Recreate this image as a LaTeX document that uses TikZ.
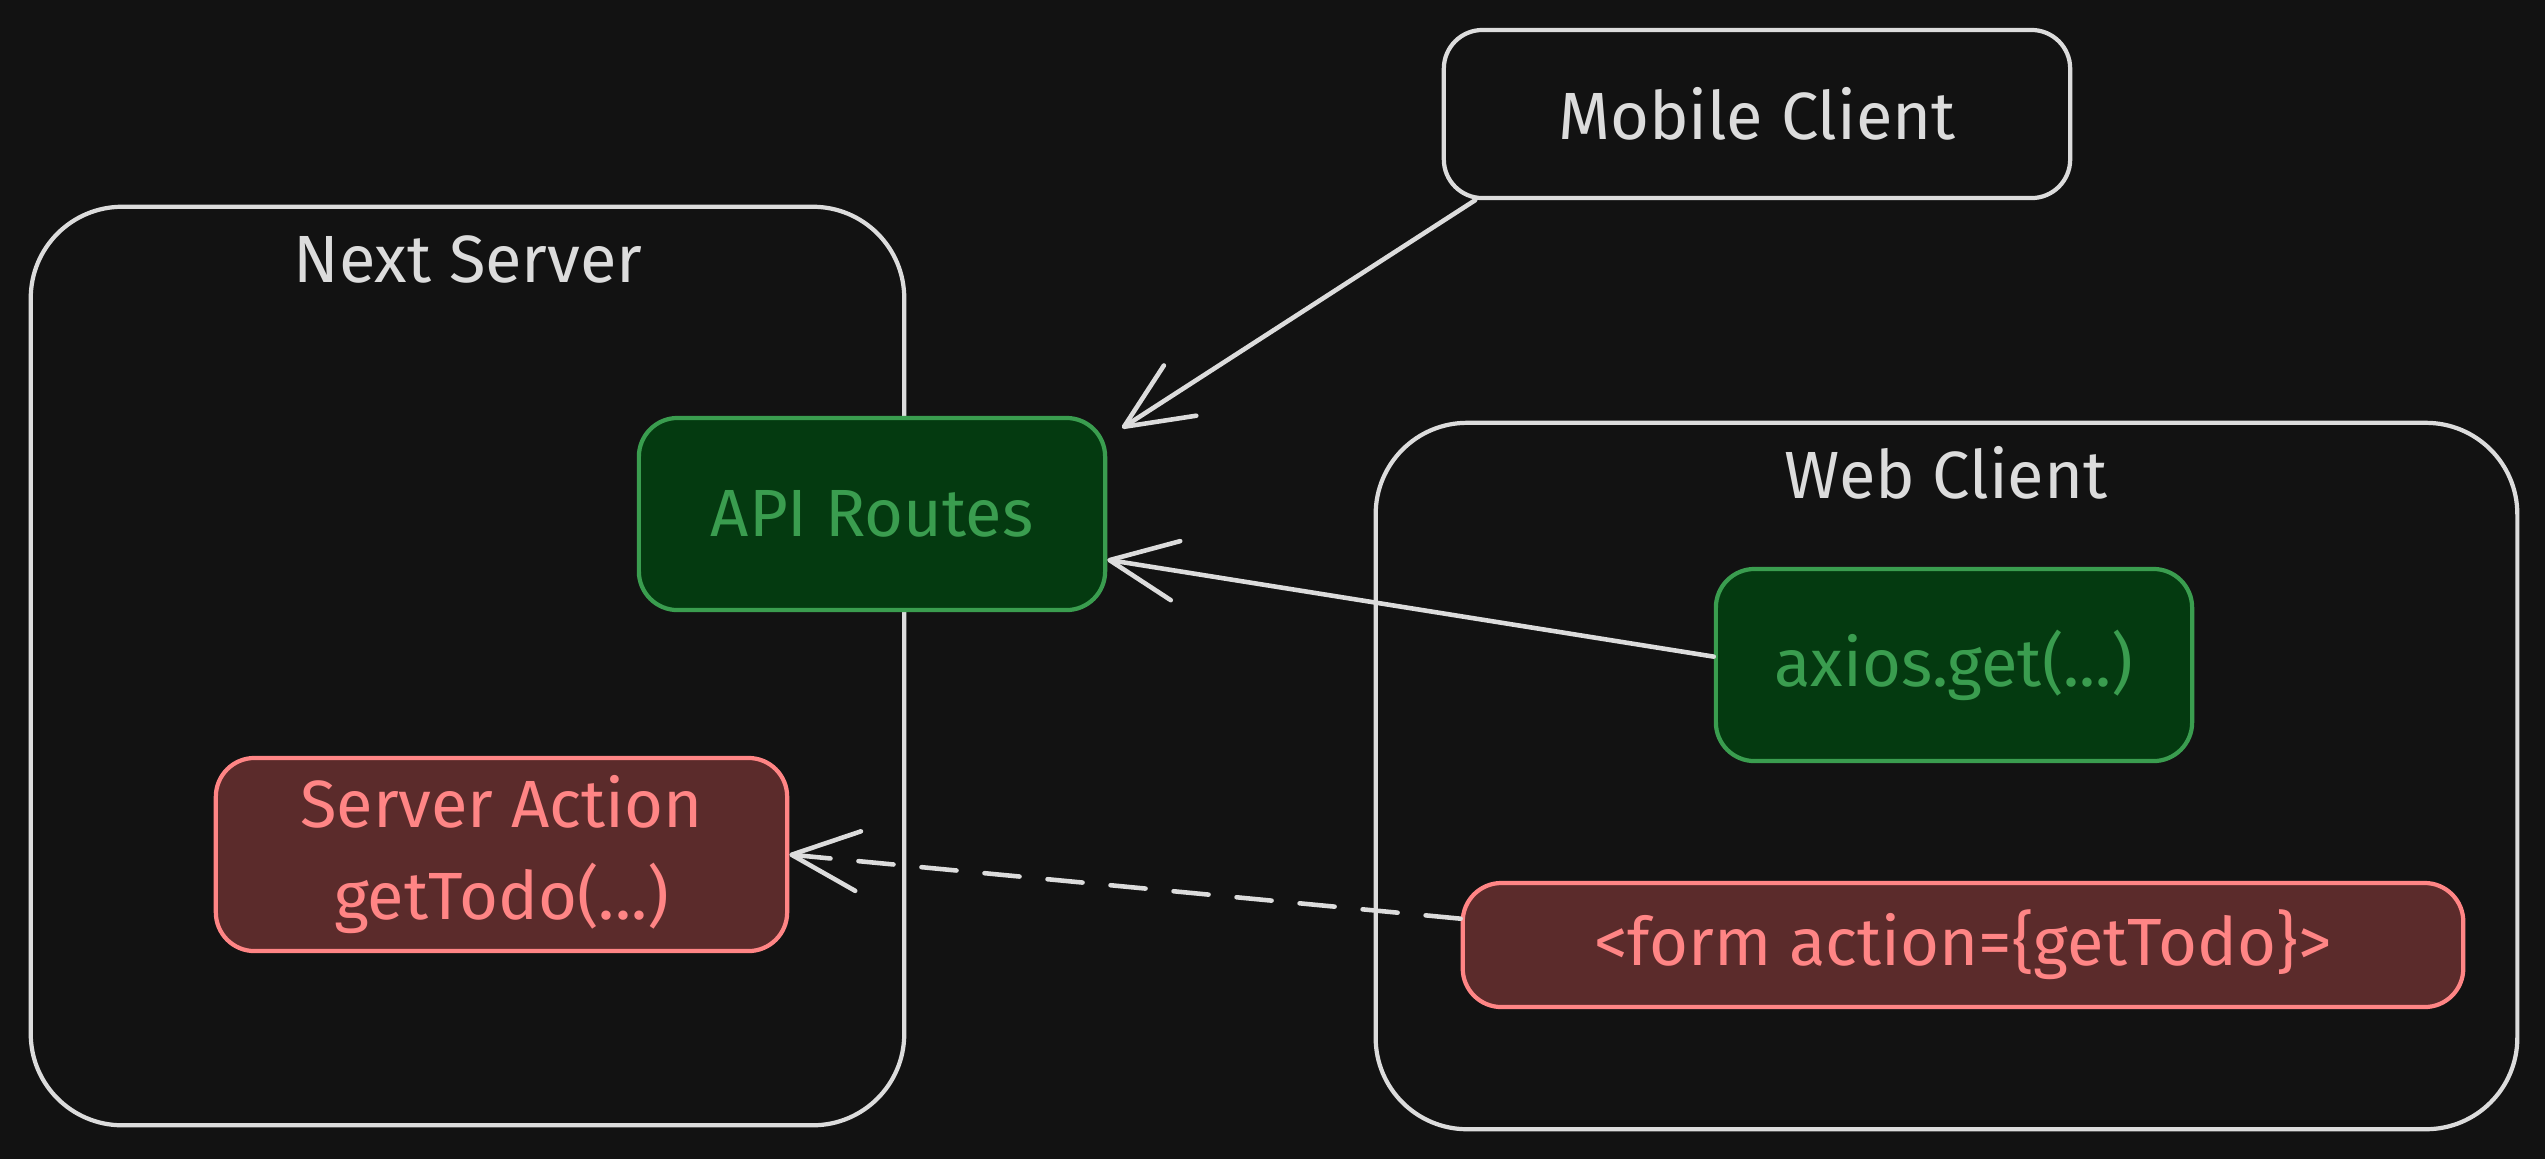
\documentclass[tikz,border=0pt]{standalone}
\usepackage{fontspec}
\setmainfont{Fira Sans}
\usetikzlibrary{arrows.meta}
\definecolor{bg}{HTML}{121212}
\definecolor{ink}{HTML}{DCDCDC}
\definecolor{leaf}{HTML}{3A9D4F}
\definecolor{leaffill}{HTML}{043A10}
\definecolor{rose}{HTML}{FF8585}
\definecolor{rosefill}{HTML}{5B2B2B}
\begin{document}
\begin{tikzpicture}[x=0.01cm, y=-0.01cm,
        every node/.style={font=\fontsize{19}{26}\selectfont, inner sep=0pt},
        frame/.style={draw=ink, line width=1.2pt, rounded corners=26pt},
        title/.style={text=ink},
        greenbox/.style={draw=leaf, fill=leaffill, text=leaf, line width=1.2pt, rounded corners=11pt},
        redbox/.style={draw=rose, fill=rosefill, text=rose, line width=1.2pt, rounded corners=11pt, align=center},
        link/.style={draw=ink, line width=1.3pt, line cap=round, line join=round, -{Straight Barb[length=19pt,width=17pt,round]}}]
    \fill[bg] (0,0) rectangle (2545,1159);
    \node[frame, minimum width=8.73cm, minimum height=9.18cm] (next) at (467.5,666) {};
    \node[title] (nexttitle) at (468,259) {Next Server};
    \node[frame, minimum width=11.41cm, minimum height=7.06cm] (web) at (1946.5,776) {};
    \node[title] (webtitle) at (1946,473) {Web Client};
    \node[frame, rounded corners=11pt, minimum width=6.26cm, minimum height=1.68cm, text=ink] (mobile) at (1757,114) {Mobile Client};
    \node[greenbox, minimum width=4.66cm, minimum height=1.92cm] (api) at (872,514) {API Routes};
    \node[redbox, minimum width=5.71cm, minimum height=1.93cm] (action) at (501.5,854.5) {Server Action\\getTodo(...)};
    \node[greenbox, minimum width=4.76cm, minimum height=1.92cm] (axios) at (1954,665) {axios.get(...)};
    \node[redbox, minimum width=10cm, minimum height=1.24cm] (form) at (1963,945) {\textless form action=\{getTodo\}\textgreater};
    \draw[link, shorten >=5pt] (mobile.197) -- (api.18);
    \draw[link] (axios.178) -- (api.-11);
    \draw[link, dash pattern=on 10pt off 8pt] (form.177) -- (action.east);
\end{tikzpicture}
\end{document}
